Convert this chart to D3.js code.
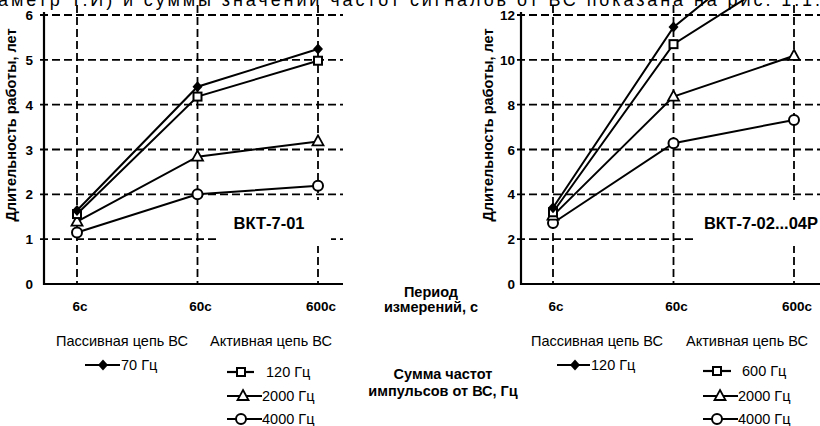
<!DOCTYPE html>
<html><head><meta charset="utf-8">
<script src="https://cdn.jsdelivr.net/npm/d3@7/dist/d3.min.js"></script>
<style>
html,body{margin:0;padding:0;background:#fff;}
svg{display:block;font-family:"Liberation Sans",Arial,sans-serif;}
</style></head>
<body><svg id="c" width="820" height="426"></svg>
<script>
// ---- data ----
const periods = ["6с", "60с", "600с"];
const leftTicks = [0, 1, 2, 3, 4, 5, 6];
const rightTicks = [0, 2, 4, 6, 8, 10, 12];
const leftNames = ["70 Гц", "120 Гц", "2000 Гц", "4000 Гц"];
const rightNames = ["120 Гц", "600 Гц", "2000 Гц", "4000 Гц"];
const markerTypes = ["diamond", "square", "triangle", "circle"];
const left70 = [1.64, 4.40, 5.24];
const left120 = [1.56, 4.18, 4.98];
const left2000 = [1.39, 2.84, 3.18];
const left4000 = [1.15, 2.00, 2.19];
const right120 = [3.40, 11.46, 15.8];
const right600 = [3.20, 10.70, 14.1];
const right2000 = [3.05, 8.36, 10.18];
const right4000 = [2.72, 6.28, 7.32];
const topText = "аметр Т.И) и суммы значений  частот сигналов от ВС показана на рис. 1.1.";
const yTitle = "Длительность работы, лет";
const xTitle = ["Период", "измерений, с"];
const sumTitle = ["Сумма частот", "импульсов от ВС, Гц"];
const passive = "Пассивная цепь ВС";
const active = "Активная цепь ВС";

const svg = d3.select("#c");

function marker(g, type, x, y) {
  if (type === "diamond") {
    g.append("path").attr("d", `M${x},${y-5.5}L${x+5},${y}L${x},${y+5.5}L${x-5},${y}Z`).attr("fill", "#000");
  } else if (type === "square") {
    g.append("rect").attr("x", x-4).attr("y", y-4).attr("width", 8).attr("height", 8)
      .attr("fill", "#fff").attr("stroke", "#000").attr("stroke-width", 2);
  } else if (type === "triangle") {
    g.append("path").attr("d", `M${x},${y-6}L${x+5.5},${y+4}L${x-5.5},${y+4}Z`)
      .attr("fill", "#fff").attr("stroke", "#000").attr("stroke-width", 1.8).attr("stroke-linejoin", "miter");
  } else {
    g.append("circle").attr("cx", x).attr("cy", y).attr("r", 5)
      .attr("fill", "#fff").attr("stroke", "#000").attr("stroke-width", 2);
  }
}

function panel(cfg) {
  const g = svg.append("g");
  const x = d3.scalePoint().domain(periods).range([cfg.x0, cfg.x1]);
  const y = d3.scaleLinear().domain([0, cfg.ymax]).range([284, 15]);
  const dash = "8,4";
  g.selectAll(".hg").data(cfg.ticks.slice(1)).enter().append("line")
    .attr("x1", cfg.axisX - 4).attr("x2", cfg.gridEnd)
    .attr("y1", d => y(d)).attr("y2", d => y(d))
    .attr("stroke", "#000").attr("stroke-width", 1.8).attr("stroke-dasharray", dash);
  g.selectAll(".vg").data(periods).enter().append("line")
    .attr("x1", d => x(d)).attr("x2", d => x(d)).attr("y1", 5).attr("y2", 284)
    .attr("stroke", "#000").attr("stroke-width", 1.8).attr("stroke-dasharray", dash);
  g.append("rect").attr("x", cfg.boxX).attr("y", 200).attr("width", cfg.boxW).attr("height", 46).attr("fill", "#fff");
  g.append("text").attr("x", cfg.labelX).attr("y", 229).attr("text-anchor", "middle")
    .attr("font-weight", "bold").attr("font-size", 16.5).text(cfg.label);
  g.append("line").attr("x1", cfg.axisX).attr("x2", cfg.axisX).attr("y1", 12).attr("y2", 285)
    .attr("stroke", "#000").attr("stroke-width", 2.2);
  g.append("line").attr("x1", cfg.axisX).attr("x2", cfg.axisEnd).attr("y1", 284).attr("y2", 284)
    .attr("stroke", "#000").attr("stroke-width", 2.2);
  g.selectAll(".yl").data(cfg.ticks).enter().append("text")
    .attr("x", cfg.axisX - cfg.labelGap).attr("y", d => y(d) + 5).attr("text-anchor", "end")
    .attr("font-weight", "bold").attr("font-size", 13.5).text(d => d);
  g.selectAll(".xl").data(periods).enter().append("text")
    .attr("x", d => x(d) + 3).attr("y", 311).attr("text-anchor", "middle")
    .attr("font-weight", "bold").attr("font-size", 13.5).text(d => d);
  g.append("text").attr("transform", `translate(${cfg.titleX},125) rotate(-90)`)
    .attr("text-anchor", "middle").attr("font-weight", "bold").attr("font-size", 14.5).text(yTitle);
  const line = d3.line().x((d, i) => x(periods[i])).y(d => y(d));
  cfg.series.forEach(s => {
    g.append("path").attr("d", line(s)).attr("fill", "none").attr("stroke", "#000").attr("stroke-width", 2);
  });
  cfg.series.slice().reverse().forEach((s, ri) => {
    const k = cfg.series.length - 1 - ri;
    s.forEach((v, i) => { if (v <= cfg.ymax) marker(g, markerTypes[k], x(periods[i]), y(v)); });
  });
  g.append("text").attr("x", cfg.passX).attr("y", 346).attr("text-anchor", "middle").attr("font-size", 14.5).text(passive);
  g.append("text").attr("x", cfg.actX).attr("y", 346).attr("text-anchor", "middle").attr("font-size", 14.5).text(active);
  cfg.legend.forEach((L, k) => {
    g.append("line").attr("x1", L.lx0).attr("x2", L.lx1).attr("y1", L.y).attr("y2", L.y)
      .attr("stroke", "#000").attr("stroke-width", 2.2);
    marker(g, markerTypes[k], L.mx, L.y);
    g.append("text").attr("x", L.tx).attr("y", L.y + 5).attr("font-size", 14.5).text(cfg.names[k]);
  });
}

panel({
  x0: 77, x1: 318, ymax: 6, ticks: leftTicks, axisX: 44, axisEnd: 343, gridEnd: 343, labelGap: 11,
  boxX: 218, boxW: 113, labelX: 269, label: "ВКТ-7-01", titleX: 16,
  series: [left70, left120, left2000, left4000], names: leftNames,
  passX: 122, actX: 271,
  legend: [
    {lx0: 85, lx1: 120, mx: 103, tx: 121, y: 365},
    {lx0: 227, lx1: 254, mx: 241, tx: 266, y: 372},
    {lx0: 227, lx1: 262, mx: 243, tx: 262, y: 396},
    {lx0: 227, lx1: 262, mx: 241, tx: 262, y: 419}
  ]
});
panel({
  x0: 553, x1: 794, ymax: 12, ticks: rightTicks, axisX: 521, axisEnd: 820, gridEnd: 820, labelGap: 6,
  boxX: 697, boxW: 123, labelX: 761, label: "ВКТ-7-02...04Р", titleX: 493,
  series: [right120, right600, right2000, right4000], names: rightNames,
  passX: 597, actX: 747,
  legend: [
    {lx0: 557, lx1: 590, mx: 575, tx: 591, y: 365},
    {lx0: 703, lx1: 731, mx: 717, tx: 742, y: 371},
    {lx0: 703, lx1: 738, mx: 720, tx: 738, y: 396},
    {lx0: 703, lx1: 738, mx: 717, tx: 738, y: 419}
  ]
});

xTitle.forEach((t, i) => svg.append("text").attr("x", 431).attr("y", 297 + i * 15)
  .attr("text-anchor", "middle").attr("font-weight", "bold").attr("font-size", 14.5).text(t));
sumTitle.forEach((t, i) => svg.append("text").attr("x", 443).attr("y", 379 + i * 17)
  .attr("text-anchor", "middle").attr("font-weight", "bold").attr("font-size", 14.5).text(t));

svg.append("text").attr("x", -2).attr("y", 6).attr("font-size", 18)
  .attr("textLength", 822).attr("lengthAdjust", "spacing").text(topText);
</script></body></html>
